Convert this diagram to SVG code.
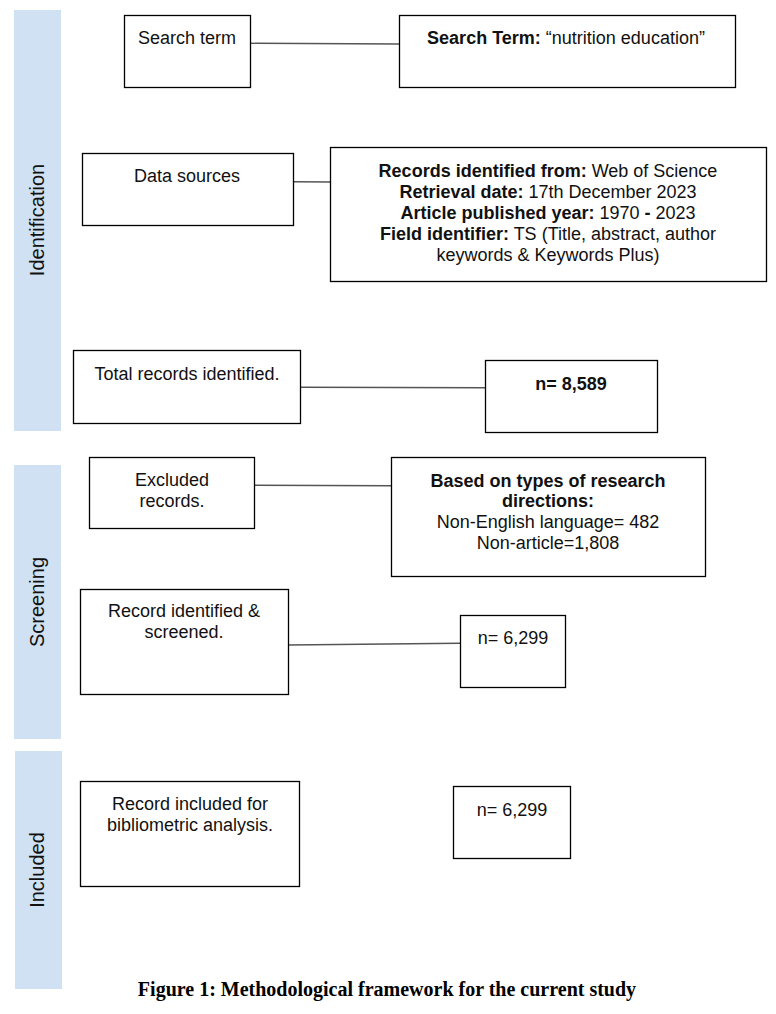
<svg xmlns="http://www.w3.org/2000/svg" width="776" height="1014" viewBox="0 0 776 1014">
<style>
.bar{fill:#cfe1f3;}
.box{fill:#ffffff;stroke:#000000;stroke-width:1.3;}
.t{font-family:"Liberation Sans",Arial,sans-serif;font-size:18px;fill:#111111;text-anchor:middle;}
.b{font-weight:bold;}
.side{font-family:"Liberation Sans",Arial,sans-serif;font-size:20px;fill:#111111;text-anchor:middle;}
.conn{stroke:#555555;stroke-width:1.4;fill:none;}
.cap{font-family:"Liberation Serif","Times New Roman",serif;font-size:20px;font-weight:bold;fill:#000000;text-anchor:middle;}
</style>
<rect width="776" height="1014" fill="#ffffff"/>
<g id="stage-identification">
<rect class="bar" x="14" y="10" width="47" height="421"/>
<text class="side" x="44" y="220" transform="rotate(-90 44 220)">Identification</text>
</g>
<g id="stage-screening">
<rect class="bar" x="14" y="465" width="47" height="274"/>
<text class="side" x="44" y="602" transform="rotate(-90 44 602)">Screening</text>
</g>
<g id="stage-included">
<rect class="bar" x="15" y="751" width="47" height="238"/>
<text class="side" x="44" y="870" transform="rotate(-90 44 870)">Included</text>
</g>
<g id="connectors">
<line class="conn" x1="250" y1="43.3" x2="399" y2="44"/>
<line class="conn" x1="294" y1="181.7" x2="330" y2="182"/>
<line class="conn" x1="301" y1="387.3" x2="485" y2="387.7"/>
<line class="conn" x1="255" y1="485.3" x2="391" y2="485.7"/>
<line class="conn" x1="288" y1="645" x2="460" y2="643.3"/>
</g>
<g id="search-term">
<rect class="box" x="124.5" y="15.5" width="126" height="72"/>
<text class="t" x="187" y="44">Search term</text>
</g>
<g id="search-term-detail">
<rect class="box" x="399.5" y="15.5" width="336" height="72"/>
<text class="t" x="566" y="44"><tspan class="b">Search Term:</tspan> “nutrition education”</text>
</g>
<g id="data-sources">
<rect class="box" x="82.5" y="153.5" width="211" height="72"/>
<text class="t" x="187" y="182">Data sources</text>
</g>
<g id="records-identified">
<rect class="box" x="330.5" y="147.5" width="436" height="134"/>
<text class="t" x="548" y="177"><tspan class="b">Records identified from:</tspan> Web of Science</text>
<text class="t" x="548" y="198"><tspan class="b">Retrieval date:</tspan> 17th December 2023</text>
<text class="t" x="548" y="219"><tspan class="b">Article published year:</tspan> 1970 <tspan class="b">-</tspan> 2023</text>
<text class="t" x="548" y="240"><tspan class="b">Field identifier:</tspan> TS (Title, abstract, author</text>
<text class="t" x="548" y="261">keywords &amp; Keywords Plus)</text>
</g>
<g id="total-records">
<rect class="box" x="73.5" y="350.5" width="227" height="73"/>
<text class="t" x="187" y="380">Total records identified.</text>
</g>
<g id="n-8589">
<rect class="box" x="485.5" y="360.5" width="172" height="72"/>
<text class="t b" x="571" y="390">n= 8,589</text>
</g>
<g id="excluded-records">
<rect class="box" x="89.5" y="457.5" width="165" height="71"/>
<text class="t" x="172" y="486">Excluded</text>
<text class="t" x="172" y="507">records.</text>
</g>
<g id="exclusion-criteria">
<rect class="box" x="391.5" y="457.5" width="314" height="119"/>
<text class="t b" x="548" y="487">Based on types of research</text>
<text class="t b" x="548" y="507">directions:</text>
<text class="t" x="548" y="528">Non-English language= 482</text>
<text class="t" x="548" y="549">Non-article=1,808</text>
</g>
<g id="record-screened">
<rect class="box" x="80.5" y="589.5" width="208" height="105"/>
<text class="t" x="184" y="617">Record identified &amp;</text>
<text class="t" x="184" y="638">screened.</text>
</g>
<g id="n-6299-screened">
<rect class="box" x="460.5" y="615.5" width="105" height="72"/>
<text class="t" x="513" y="644">n= 6,299</text>
</g>
<g id="record-included">
<rect class="box" x="80.5" y="781.5" width="219" height="105"/>
<text class="t" x="190" y="810">Record included for</text>
<text class="t" x="190" y="831">bibliometric analysis.</text>
</g>
<g id="n-6299-included">
<rect class="box" x="453.5" y="786.5" width="117" height="72"/>
<text class="t" x="512" y="816">n= 6,299</text>
</g>
<text class="cap" x="387" y="996">Figure 1: Methodological framework for the current study</text>
</svg>
